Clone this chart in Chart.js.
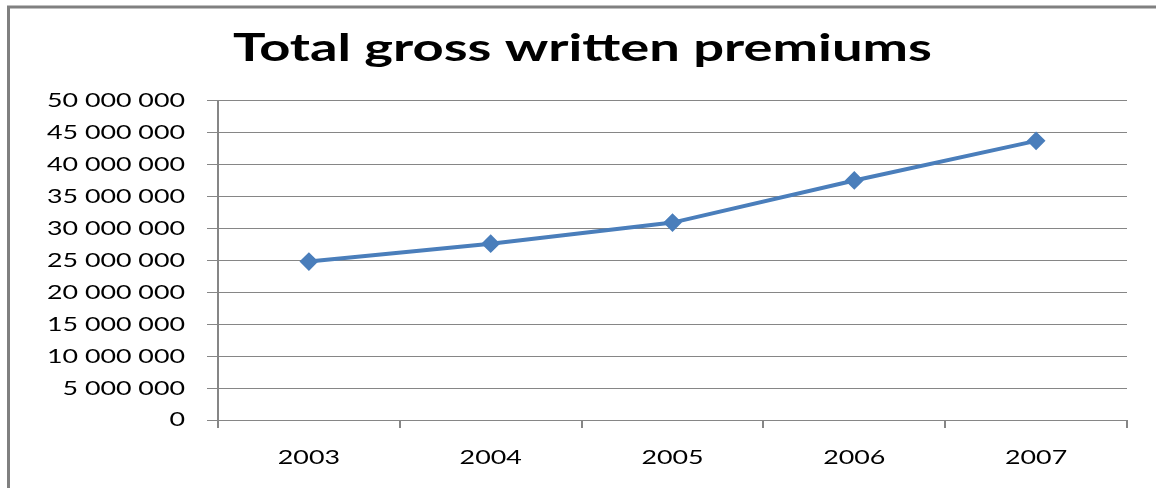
<!DOCTYPE html>
<html>
<head>
<meta charset="utf-8">
<script src="https://cdn.jsdelivr.net/npm/chart.js@4/dist/chart.umd.min.js"></script>
<style>
  body { margin: 0; background: #fff; }
</style>
</head>
<body>
<canvas id="myChart1" width="1156" height="488"></canvas>
<script>
const years = ['2003', '2004', '2005', '2006', '2007'];
const premiums = [24800000, 27600000, 30900000, 37500000, 43700000];
const yTicks = [0, 5000000, 10000000, 15000000, 20000000, 25000000, 30000000, 35000000, 40000000, 45000000, 50000000];

const gray = '#868686';
const blue = '#4A7EBB';

// groups of three digits: 50 000 000
function spaced(v) {
    return String(v).replace(/\B(?=(\d{3})+(?!\d))/g, ' ');
}

// the picture's lettering is stretched sideways
function stretchFor(font) {
    return font.indexOf('bold') >= 0 ? 1.43 : 1.34;
}

const framePlugin = {
    id: 'frame',
    beforeInit(chart) {
        const c = chart.ctx;
        const fill = c.fillText.bind(c);
        const measure = c.measureText.bind(c);
        c.fillText = function (t, x, y, w) {
            const sx = stretchFor(c.font);
            c.save();
            c.translate(x, y);
            c.scale(sx, 1);
            if (w === undefined) fill(t, 0, 0); else fill(t, 0, 0, w / sx);
            c.restore();
        };
        c.measureText = function (t) {
            const m = measure(t);
            return { width: m.width * stretchFor(c.font) };
        };
    },
    beforeDraw(chart) {
        const c = chart.ctx;
        c.save();
        c.strokeStyle = '#808080';
        c.lineWidth = 3;
        c.beginPath();
        c.moveTo(8.5, 488);
        c.lineTo(8.5, 7);
        c.lineTo(1156, 7);
        c.stroke();
        c.restore();
    }
};

const ctx = document.getElementById('myChart1');

new Chart(ctx, {
    type: 'line',
    data: {
        labels: years,
        datasets: [{
            label: 'Total gross written premiums',
            data: premiums,
            borderColor: blue,
            backgroundColor: blue,
            borderWidth: 4,
            pointStyle: 'rectRot',
            pointRadius: 8,
            pointBorderWidth: 2,
            pointBackgroundColor: blue,
            pointBorderColor: blue,
            tension: 0
        }]
    },
    options: {
        responsive: false,
        animation: false,
        layout: {
            padding: { left: 38, right: 29, top: 0, bottom: 0 }
        },
        plugins: {
            legend: { display: false },
            tooltip: { enabled: false },
            title: {
                display: true,
                text: 'Total gross written premiums',
                color: '#000',
                font: { family: 'Lato', size: 38, weight: 'bold', lineHeight: 1.2 },
                padding: { top: 26, bottom: 29 }
            }
        },
        scales: {
            x: {
                offset: true,
                grid: {
                    offset: true,
                    drawOnChartArea: false,
                    drawTicks: true,
                    tickLength: 8,
                    color: gray,
                    lineWidth: 2
                },
                border: { display: true, color: gray, width: 1 },
                ticks: {
                    color: '#000',
                    padding: 18,
                    maxRotation: 0,
                    font: { family: 'Lato', size: 20, lineHeight: 1.2 }
                },
                afterFit(scale) { scale.height = 68; }
            },
            y: {
                min: 0,
                max: 50000000,
                afterBuildTicks(scale) {
                    scale.ticks = yTicks.map(v => ({ value: v }));
                },
                grid: {
                    color: gray,
                    lineWidth: 1,
                    drawTicks: true,
                    tickLength: 11
                },
                border: { display: true, color: gray, width: 2 },
                ticks: {
                    color: '#000',
                    padding: 22,
                    font: { family: 'Lato', size: 20, lineHeight: 1.2 },
                    callback: (v) => spaced(v)
                },
                afterFit(scale) { scale.width = 180; }
            }
        }
    },
    plugins: [framePlugin]
});
</script>
</body>
</html>
